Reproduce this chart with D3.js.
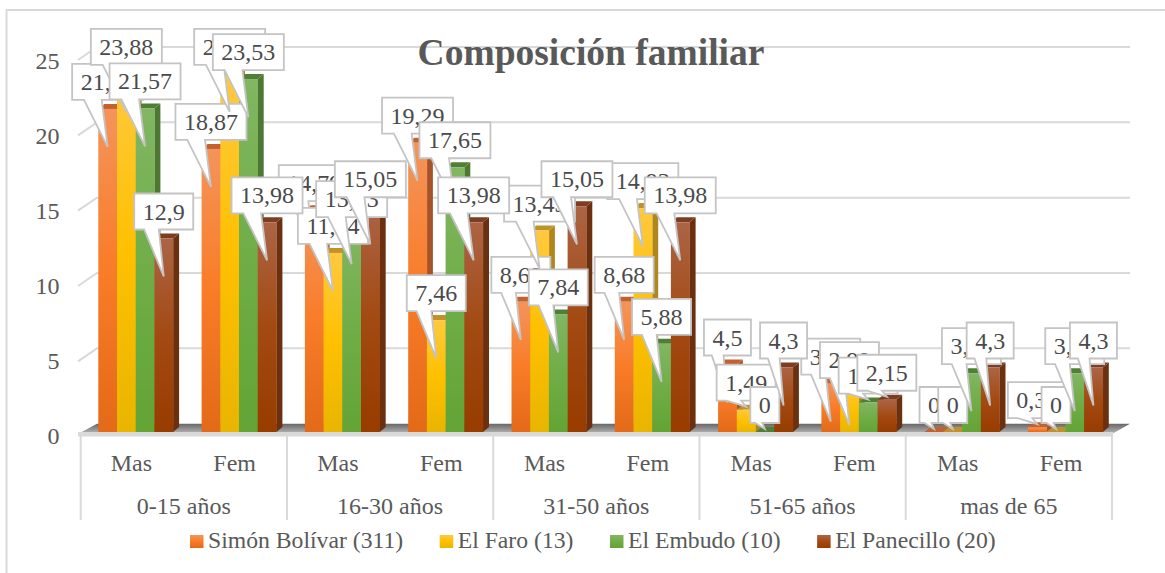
<!DOCTYPE html>
<html><head><meta charset="utf-8">
<script src="https://cdn.jsdelivr.net/npm/d3@7/dist/d3.min.js"></script>
<style>html,body{margin:0;padding:0;background:#fff}svg{display:block}text{font-family:"Liberation Serif",serif}</style>
</head><body><svg id="c" width="1165" height="573"></svg>
<script>
const ageGroups=["0-15 años","16-30 años","31-50 años","51-65 años","mas de 65"];
const sexes=["Mas","Fem"];
const seriesNames=["Simón Bolívar (311)","El Faro (13)","El Embudo (10)","El Panecillo (20)"];
const simonBolivar=[21.54,18.87,14.79,19.29,8.68,8.68,4.5,3.22,0,0.32];
const elFaro=[23.88,23.88,11.94,7.46,13.43,14.93,1.49,2.99,0,0];
const elEmbudo=[21.57,23.53,13.73,17.65,7.84,5.88,0,1.96,3.92,3.92];
const elPanecillo=[12.9,13.98,15.05,13.98,15.05,13.98,4.3,2.15,4.3,4.3];
const yTicks=[0,5,10,15,20,25];
const allSeries=[simonBolivar,elFaro,elEmbudo,elPanecillo];
const palettes=[
 {top:"#C4622F",side:"#A5532A",g:["#F4945A","#F97C28","#E36A18"]},
 {top:"#C2922A",side:"#B0861E",g:["#FFC93F","#FFC000","#E9B500"]},
 {top:"#4F7F35",side:"#4D7832",g:["#82B663","#70AD47","#63A435"]},
 {top:"#7C3D20",side:"#6A300F",g:["#AC6445","#A34A12","#983C00"]}];
const svg=d3.select("#c");
const grey="#595959";
const cats=d3.range(10);
const L=80.7,R=1112,base=432,depthX=6,depthY=5;
const xCat=d3.scaleBand().domain(cats).range([L,L+1033]);
const xGroup=d3.scaleBand().domain(d3.range(5)).range([L,R]);
const xSeries=d3.scaleBand().domain(d3.range(4)).range([17.6,92.4]);
const y=d3.scaleLinear().domain([0,25]).range([base,57]);
const yBack=d3.scaleLinear().domain([0,25]).range([423.7,47]);
const barCx=(c,s)=>xCat(c)+xSeries(s)+xSeries.bandwidth()/2;

const defs=svg.append("defs");
palettes.forEach((p,i)=>{
 const g=defs.append("linearGradient").attr("id","b"+i).attr("x1",0).attr("y1",0).attr("x2",0).attr("y2",1);
 p.g.forEach((c,k)=>g.append("stop").attr("offset",k/2).attr("stop-color",c));
});
const fg=defs.append("linearGradient").attr("id","floor").attr("x1",0).attr("y1",0).attr("x2",0).attr("y2",1);
fg.append("stop").attr("offset",0).attr("stop-color","#666");
fg.append("stop").attr("offset",1).attr("stop-color","#bbb");

// frame
svg.append("path").attr("d","M6.5,573V10H1165").attr("fill","none").attr("stroke","#d9d9d9").attr("stroke-width",2);
// gridlines
yTicks.slice(1).forEach(t=>{
 svg.append("path").attr("d",`M78,${yBack(t)+13}L97,${yBack(t)}H1130`).attr("fill","none").attr("stroke","#d9d9d9").attr("stroke-width",2);
});
// floor
svg.append("path").attr("d",`M78,434L97,${yBack(0)}H1130L${R},434Z`).attr("fill","url(#floor)");
svg.append("rect").attr("x",78).attr("y",432).attr("width",R-78+1).attr("height",4.5).attr("fill","#d9d9d9");
// table
d3.range(6).forEach(i=>{
 const x=i<5?xGroup(i):R;
 svg.append("line").attr("x1",x).attr("x2",x).attr("y1",436).attr("y2",520).attr("stroke","#d9d9d9").attr("stroke-width",2);
});
// axis
const ax=svg.append("g").attr("transform","translate(61.5,3.5)").call(d3.axisLeft(y).tickValues(yTicks).tickSize(0).tickPadding(2));
ax.select(".domain").remove();
ax.selectAll("text").attr("font-size",24).attr("fill",grey).attr("font-family","Liberation Serif");
// bars
cats.forEach(c=>{
 allSeries.forEach((vals,s)=>{
  const v=vals[c],x0=xCat(c)+xSeries(s),w=xSeries.bandwidth(),yt=y(v),p=palettes[s];
  const g=svg.append("g");
  g.append("path").attr("d",`M${x0+w},${yt}l${depthX},${-depthY}V${base-depthY}l${-depthX},${depthY}Z`).attr("fill",p.side);
  g.append("path").attr("d",`M${x0},${yt}l${depthX},${-depthY}h${w}l${-depthX},${depthY}Z`).attr("fill",p.top);
  if(v>0)g.append("rect").attr("x",x0).attr("y",yt).attr("width",w+.3).attr("height",base-yt).attr("fill",`url(#b${s})`);
 });
});
// callouts
const fmt=v=>String(v).replace(".",",");
allSeries.forEach((vals,s)=>{
 cats.forEach(c=>{
  const v=vals[c],cx=barCx(c,s),yt=y(v),label=fmt(v);
  const g=svg.append("g");
  const path=g.append("path").attr("fill","#fff").attr("stroke","#c4c4c4").attr("stroke-width",1.8).attr("stroke-linejoin","miter");
  const t=g.append("text").text(label).attr("font-size",24).attr("fill","#4a4a4a").attr("text-anchor","middle");
  const w=t.node().getComputedTextLength()+17,h=36;
  const bx=cx-w/2,by=yt-45;
  const tipY=v>=2.5?yt+38:yt-3;
  t.attr("x",cx).attr("y",by+h/2+8);
  const b1=bx+w/6,b2=bx+w*5/12;
  path.attr("d",`M${bx},${by}H${bx+w}V${by+h}H${b2}L${cx},${tipY}L${b1},${by+h}H${bx}Z`);
 });
});
// title
svg.append("text").text("Composición familiar").attr("x",591).attr("y",65).attr("text-anchor","middle").attr("font-size",37.5).attr("font-weight","bold").attr("fill",grey);
// category labels
cats.forEach(c=>svg.append("text").text(sexes[c%2]).attr("x",xCat(c)+xCat.bandwidth()/2-1).attr("y",471).attr("text-anchor","middle").attr("font-size",24).attr("fill",grey));
ageGroups.forEach((a,i)=>svg.append("text").text(a).attr("x",xGroup(i)+xGroup.bandwidth()/2).attr("y",514).attr("text-anchor","middle").attr("font-size",24).attr("fill",grey));
// legend
let lx=190;
seriesNames.forEach((n,s)=>{
 svg.append("rect").attr("x",lx).attr("y",535).attr("width",13.5).attr("height",13).attr("fill",`url(#b${s})`);
 const t=svg.append("text").text(n).attr("x",lx+18).attr("y",548).attr("font-size",23.7).attr("fill",grey);
 lx+=18+t.node().getComputedTextLength()+36.5;
});
</script></body></html>
